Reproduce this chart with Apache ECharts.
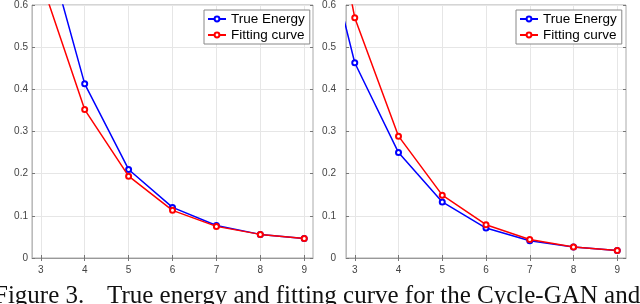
<!DOCTYPE html>
<html>
<head>
<meta charset="utf-8">
<script src="https://cdn.jsdelivr.net/npm/echarts@6/dist/echarts.min.js"></script>
<style>
html,body{margin:0;padding:0;background:#fff;overflow:hidden;}
#chart{width:640px;height:304px;}
</style>
</head>
<body>
<div id="chart"></div>
<script>
// ---- data ----
const xTicks = [3, 4, 5, 6, 7, 8, 9];
const yTicks = [0, 0.1, 0.2, 0.3, 0.4, 0.5, 0.6];
const xLeft = [3, 4, 5, 6, 7, 8, 9];
const trueEnergyLeft = [0.79, 0.413, 0.21, 0.12, 0.077, 0.056, 0.046];
const fittingLeft = [0.66, 0.352, 0.194, 0.113, 0.075, 0.056, 0.046];
const xRight = [2, 3, 4, 5, 6, 7, 8, 9];
const trueEnergyRight = [0.88, 0.463, 0.25, 0.133, 0.071, 0.041, 0.026, 0.018];
const fittingRight = [1.1, 0.57, 0.289, 0.149, 0.079, 0.044, 0.026, 0.018];
const seriesNames = ['True Energy', 'Fitting curve'];
const captionLead = 'Figure 3.';
const captionRest = 'True energy and fitting curve for the Cycle-GAN and';

const pairs = (xs, ys) => xs.map((x, i) => [x, ys[i]]);

const chart = echarts.init(document.getElementById('chart'));
const grids = [
  {left: 32, top: 5, width: 281, height: 253},
  {left: 346, top: 5, width: 280, height: 253}
];
const tickFont = {fontFamily: 'Liberation Sans', fontSize: 10, color: '#444'};

function xAxisFor(gi, pos) {
  const bottom = pos === 'bottom';
  return {
    type: 'value', gridIndex: gi, position: pos, min: 2.8, max: 9.2,
    axisLine: {show: bottom, lineStyle: {color: '#999', width: 1}},
    axisTick: {show: true, inside: true, length: 3, customValues: xTicks, lineStyle: {color: '#777'}},
    axisLabel: {show: bottom, customValues: xTicks, margin: 7, ...tickFont},
    splitLine: {show: bottom, lineStyle: {color: '#e6e6e6', width: 1}}
  };
}
function yAxisFor(gi, pos, margin) {
  const left = pos === 'left';
  return {
    type: 'value', gridIndex: gi, position: pos, min: 0, max: 0.6, interval: 0.1,
    axisLine: {show: left, lineStyle: {color: '#bbb', width: 1}},
    axisTick: {show: true, inside: true, length: 3, lineStyle: {color: '#777'}},
    axisLabel: {show: left, margin: margin, ...tickFont},
    splitLine: {show: left, lineStyle: {color: '#e6e6e6', width: 1}}
  };
}

function lineSeries(name, color, xi, yi, data) {
  return {
    name: name, type: 'line', xAxisIndex: xi, yAxisIndex: yi, data: data,
    clip: true, symbol: 'emptyCircle', symbolSize: 5,
    lineStyle: {color: color, width: 1.5},
    itemStyle: {color: color, borderWidth: 1.5},
    animation: false, z: color === '#ff0000' ? 3 : 2
  };
}

function legendFor(left) {
  return {
    data: seriesNames, orient: 'vertical', left: left, top: 10,
    backgroundColor: '#fff', borderColor: '#888', borderWidth: 1,
    padding: [2, 5, 2, 3], itemGap: 2, itemWidth: 18, itemHeight: 6, itemTextGap: 3,
    textStyle: {fontFamily: 'Liberation Sans', fontSize: 13.5, color: '#000', lineHeight: 14},
    selectedMode: false
  };
}

chart.setOption({
  backgroundColor: '#fff',
  animation: false,
  grid: grids.map(g => ({...g, show: true, borderColor: '#aaa', borderWidth: 1, backgroundColor: 'transparent'})),
  xAxis: [xAxisFor(0, 'bottom'), xAxisFor(0, 'top'), xAxisFor(1, 'bottom'), xAxisFor(1, 'top')],
  yAxis: [yAxisFor(0, 'left', 4), yAxisFor(0, 'right', 4), yAxisFor(1, 'left', 10), yAxisFor(1, 'right', 4)],
  legend: [legendFor(204), legendFor(516)],
  series: [
    lineSeries(seriesNames[0], '#0000ff', 0, 0, pairs(xLeft, trueEnergyLeft)),
    lineSeries(seriesNames[1], '#ff0000', 0, 0, pairs(xLeft, fittingLeft)),
    lineSeries(seriesNames[0], '#0000ff', 2, 2, pairs(xRight, trueEnergyRight)),
    lineSeries(seriesNames[1], '#ff0000', 2, 2, pairs(xRight, fittingRight))
  ],
  graphic: [
    {type: 'text', x: -6, y: 284, style: {text: captionLead, font: '25px "Liberation Serif"', fill: '#111'}},
    {type: 'text', x: 107, y: 284, style: {text: captionRest, font: '25px "Liberation Serif"', fill: '#111'}}
  ]
});
</script>
</body>
</html>
